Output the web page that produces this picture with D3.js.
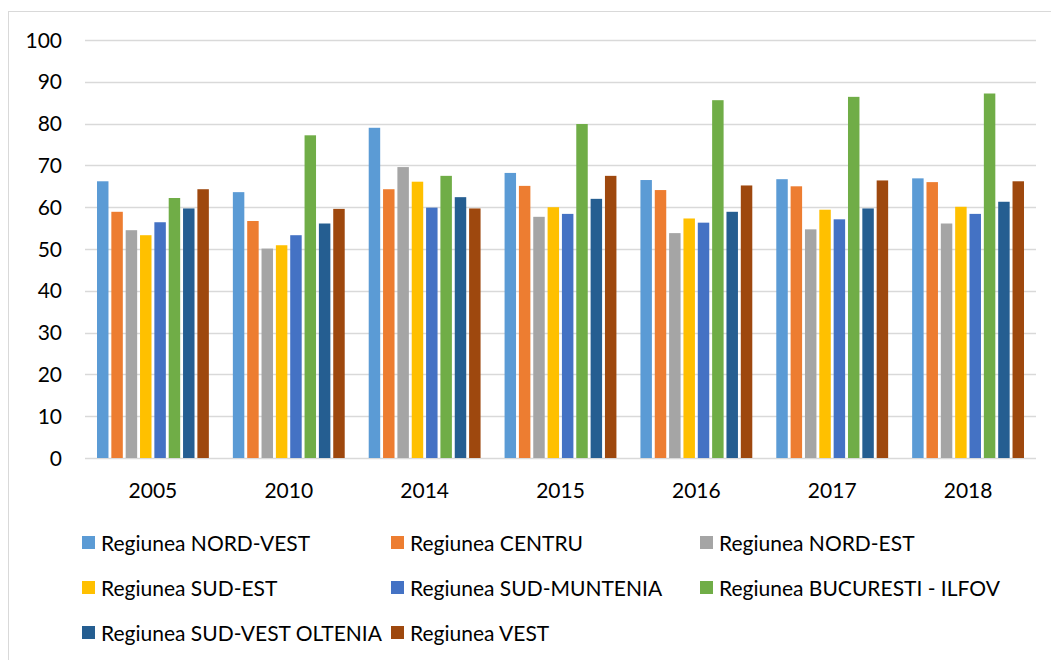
<!DOCTYPE html>
<html>
<head>
<meta charset="utf-8">
<script src="https://cdn.jsdelivr.net/npm/d3@7/dist/d3.min.js"></script>
<style>
  body { margin: 0; background: #fff; }
  text { font-family: Lato, "Open Sans", sans-serif; fill: #000; }
</style>
</head>
<body>
<svg id="chart" width="1051" height="660"></svg>
<script>
// years on the x axis
const years = ["2005", "2010", "2014", "2015", "2016", "2017", "2018"];

const regions = [
    "Regiunea NORD-VEST", "Regiunea CENTRU", "Regiunea NORD-EST",
    "Regiunea SUD-EST", "Regiunea SUD-MUNTENIA", "Regiunea BUCURESTI - ILFOV",
    "Regiunea SUD-VEST OLTENIA", "Regiunea VEST"
];

const colors = ["#5b9bd5", "#ed7d31", "#a5a5a5", "#ffc000", "#4472c4", "#70ad47", "#255e91", "#9e480e"];

// one array per region, values by year
const nordVest     = [66.2, 63.6, 79.0, 68.2, 66.5, 66.7, 66.9];
const centru       = [58.9, 56.7, 64.3, 65.1, 64.1, 65.0, 66.0];
const nordEst      = [54.5, 50.1, 69.6, 57.7, 53.8, 54.7, 56.1];
const sudEst       = [53.3, 50.9, 66.1, 60.0, 57.3, 59.4, 60.1];
const sudMuntenia  = [56.4, 53.3, 59.9, 58.4, 56.3, 57.1, 58.4];
const bucIlfov     = [62.2, 77.2, 67.5, 79.9, 85.6, 86.4, 87.2];
const sudVestOlt   = [59.7, 56.1, 62.4, 62.0, 58.9, 59.7, 61.3];
const vest         = [64.3, 59.6, 59.7, 67.5, 65.2, 66.4, 66.2];

const yTicks = [0, 10, 20, 30, 40, 50, 60, 70, 80, 90, 100];

const series = [nordVest, centru, nordEst, sudEst, sudMuntenia, bucIlfov, sudVestOlt, vest];

const svg = d3.select("#chart");

// outer chart frame (only left and top edges show in the picture)
svg.append("rect")
    .attr("x", 8.5).attr("y", 11.5)
    .attr("width", 1100).attr("height", 700)
    .attr("fill", "none")
    .attr("stroke", "#d9d9d9")
    .attr("stroke-width", 1);

const plotLeft = 85, plotRight = 1036, plotTop = 40, plotBottom = 458;

const x0 = d3.scaleBand().domain(years).range([plotLeft, plotRight]).padding(0);
const x1 = d3.scaleBand().domain(d3.range(regions.length))
    .range([12, x0.bandwidth() - 12])
    .paddingInner(0.2).paddingOuter(0);
const y = d3.scaleLinear().domain([0, 100]).range([plotBottom, plotTop]);

// gridlines
svg.append("g").selectAll("line")
    .data(yTicks)
    .join("line")
    .attr("x1", plotLeft).attr("x2", plotRight)
    .attr("y1", d => Math.round(y(d)) + 0.5)
    .attr("y2", d => Math.round(y(d)) + 0.5)
    .attr("stroke", "#d9d9d9")
    .attr("stroke-width", 1.3);

// y axis labels
svg.append("g").selectAll("text")
    .data(yTicks)
    .join("text")
    .attr("x", 62)
    .attr("y", d => y(d))
    .attr("dy", "0.36em")
    .attr("text-anchor", "end")
    .style("font-size", "21px")
    .text(d => d);

// bars
const groups = svg.append("g").selectAll("g")
    .data(years)
    .join("g")
    .attr("transform", d => "translate(" + x0(d) + ",0)");

groups.selectAll("rect")
    .data((d, i) => series.map((s, k) => ({k: k, value: s[i]})))
    .join("rect")
    .attr("x", d => x1(d.k))
    .attr("width", x1.bandwidth())
    .attr("y", d => y(d.value))
    .attr("height", d => y(0) - y(d.value))
    .attr("fill", d => colors[d.k]);

// x axis labels
svg.append("g").selectAll("text")
    .data(years)
    .join("text")
    .attr("x", d => x0(d) + x0.bandwidth() / 2)
    .attr("y", 498)
    .attr("text-anchor", "middle")
    .style("font-size", "21px")
    .text(d => d);

// legend
const legendCols = [82, 391, 700];
const legendRows = [543, 588, 633];
const legendPos = [
    [0, 0], [1, 0], [2, 0],
    [0, 1], [1, 1], [2, 1],
    [0, 2], [1, 2]
];

const legend = svg.append("g").selectAll("g")
    .data(regions)
    .join("g")
    .attr("transform", (d, i) => "translate(" + legendCols[legendPos[i][0]] + "," + legendRows[legendPos[i][1]] + ")");

legend.append("rect")
    .attr("x", 0).attr("y", -7)
    .attr("width", 13).attr("height", 13)
    .attr("fill", (d, i) => colors[i]);

legend.append("text")
    .attr("x", 19)
    .attr("y", 0)
    .attr("dy", "0.36em")
    .style("font-size", "21px")
    .text(d => d);
</script>
</body>
</html>
